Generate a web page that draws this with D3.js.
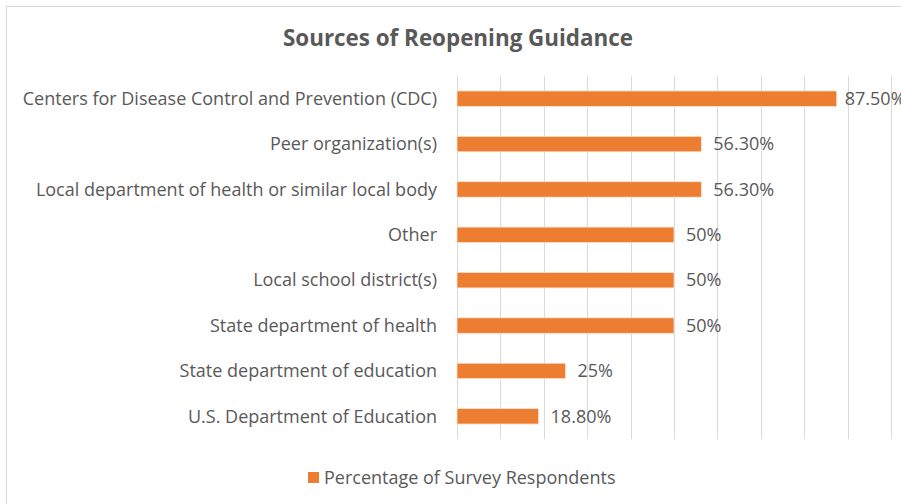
<!DOCTYPE html>
<html>
<head>
<meta charset="utf-8">
<script src="https://cdn.jsdelivr.net/npm/d3@7"></script>
<style>
  body { margin: 0; background: #fff; }
  text { font-family: "Open Sans", sans-serif; }
</style>
</head>
<body>
<div id="chart"></div>
<script>
// Data
const categories = [
    "Centers for Disease Control and Prevention (CDC)",
    "Peer organization(s)",
    "Local department of health or similar local body",
    "Other",
    "Local school district(s)",
    "State department of health",
    "State department of education",
    "U.S. Department of Education"
];
const values = [87.5, 56.3, 56.3, 50, 50, 50, 25, 18.8];
const valueLabels = ["87.50%", "56.30%", "56.30%", "50%", "50%", "50%", "25%", "18.80%"];
const gridTicks = [0, 10, 20, 30, 40, 50, 60, 70, 80, 90, 100];
const seriesName = "Percentage of Survey Respondents";

const width = 901, height = 504;
const plot = {left: 457, right: 891, top: 76, bottom: 439};
const barColor = "#ED7D31";
const textColor = "#595959";

const svg = d3.select("#chart")
    .append("svg")
        .attr("width", width)
        .attr("height", height);

// Chart frame (runs off the right and bottom edge)
svg.append("rect")
    .attr("x", 6.5)
    .attr("y", 6.5)
    .attr("width", 920)
    .attr("height", 520)
    .attr("fill", "#fff")
    .attr("stroke", "#d9d9d9");

// Title
svg.append("text")
    .attr("x", 458)
    .attr("y", 46)
    .attr("text-anchor", "middle")
    .style("font-size", "22.4px")
    .style("font-weight", "bold")
    .attr("fill", textColor)
    .text("Sources of Reopening Guidance");

const xScale = d3.scaleLinear()
    .domain([0, 100])
    .range([plot.left, plot.right]);

const yScale = d3.scaleBand()
    .domain(categories)
    .range([plot.top, plot.bottom])
    .paddingInner(0.66)
    .paddingOuter(0.33);

// Vertical gridlines
svg.append("g")
    .selectAll("line")
    .data(gridTicks)
    .join("line")
        .attr("x1", d => Math.round(xScale(d)) + 0.5)
        .attr("x2", d => Math.round(xScale(d)) + 0.5)
        .attr("y1", plot.top)
        .attr("y2", plot.bottom)
        .attr("stroke", "#d9d9d9")
        .attr("stroke-width", 1);

// Category labels
svg.append("g")
    .selectAll("text")
    .data(categories)
    .join("text")
        .attr("x", plot.left - 20)
        .attr("y", d => yScale(d) + yScale.bandwidth() / 2)
        .attr("dy", "0.35em")
        .attr("text-anchor", "end")
        .style("font-size", "18px")
        .attr("fill", textColor)
        .text(d => d);

// Bars
svg.append("g")
    .selectAll("rect")
    .data(values)
    .join("rect")
        .attr("x", xScale(0))
        .attr("y", (d, i) => yScale(categories[i]))
        .attr("width", d => xScale(d) - xScale(0))
        .attr("height", yScale.bandwidth())
        .attr("fill", barColor)
        .attr("stroke", "#fbe5d6")
        .attr("stroke-width", 0.75);

// Value labels
svg.append("g")
    .selectAll("text")
    .data(values)
    .join("text")
        .attr("x", d => xScale(d) + (d > 80 ? 8 : 12))
        .attr("y", (d, i) => yScale(categories[i]) + yScale.bandwidth() / 2)
        .attr("dy", "0.35em")
        .style("font-size", "18px")
        .attr("fill", textColor)
        .text((d, i) => valueLabels[i]);

// Legend
const legend = svg.append("g")
    .attr("transform", "translate(308, 472)");
legend.append("rect")
    .attr("width", 11)
    .attr("height", 11)
    .attr("fill", barColor);
legend.append("text")
    .attr("x", 16)
    .attr("y", 5.5)
    .attr("dy", "0.35em")
    .style("font-size", "18px")
    .attr("fill", textColor)
    .text(seriesName);
</script>
</body>
</html>
